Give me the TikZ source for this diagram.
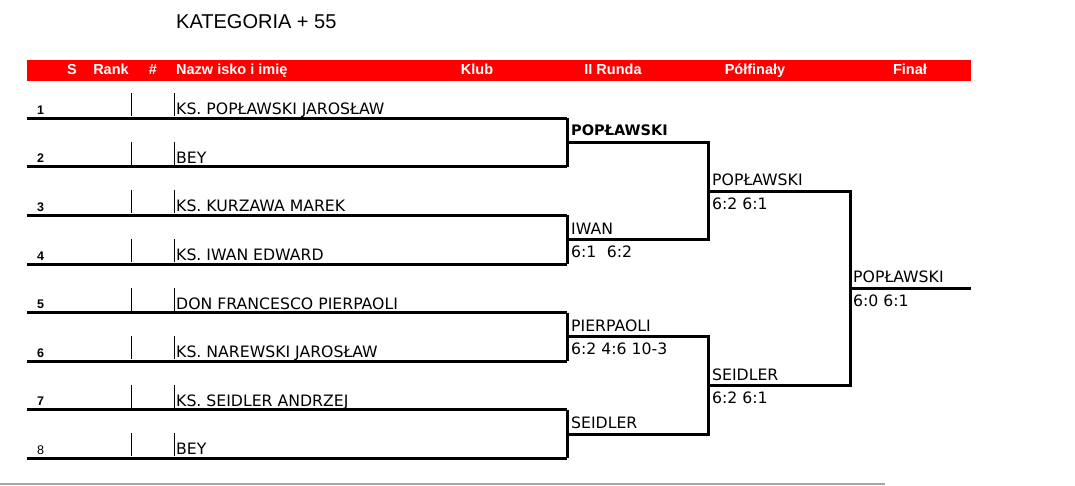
\documentclass[tikz,border=0pt]{standalone}
\usepackage{fontspec}
\setmainfont{Liberation Sans}
\newfontfamily\namefont{DejaVu Sans}
\definecolor{rulegray}{RGB}{165,165,165}
\tikzset{
  bar/.style={line width=3pt},
  tick/.style={line width=0.8pt},
  head/.style={anchor=base, inner sep=0pt, text=white, font=\bfseries\fontsize{14.5}{16}\selectfont},
  seed/.style={anchor=base west, inner sep=0pt, font=\bfseries\fontsize{12.5}{14}\selectfont},
  seedplain/.style={anchor=base west, inner sep=0pt, font=\fontsize{12.5}{14}\selectfont},
  player/.style={anchor=base west, inner sep=0pt, font=\namefont\fontsize{15.7}{18}\selectfont},
  winner/.style={anchor=base west, inner sep=0pt, font=\namefont\fontsize{15.7}{18}\selectfont},
  score/.style={anchor=base west, inner sep=0pt, font=\namefont\fontsize{15.7}{18}\selectfont},
}
\begin{document}
\begin{tikzpicture}[x=1pt,y=-1pt]
		\useasboundingbox (0,0) rectangle (1075,486);
		% title and header bar
		\node[anchor=base west, inner sep=0pt, font=\fontsize{20}{24}\selectfont] (title) at (176,29) {KATEGORIA + 55};
		\fill[red] (27,60.5) rectangle (971,81);
		\node[head] (hS) at (72,75) {S};
		\node[head] (hRank) at (111,75) {Rank};
		\node[head] (hNr) at (153,75) {\#};
		\node[head, anchor=base west] (hName) at (176,75) {Nazw isko i imię};
		\node[head] (hKlub) at (477,75) {Klub};
		\node[head] (hR2) at (613,75) {II Runda};
		\node[head] (hSemi) at (755,75) {Półfinały};
		\node[head] (hFinal) at (910,75) {Finał};
		% players
		\foreach \i/\who/\st in {1/KS. POPŁAWSKI JAROSŁAW/seed, 2/BEY/seed, 3/KS. KURZAWA MAREK/seed, 4/KS. IWAN EDWARD/seed, 5/DON FRANCESCO PIERPAOLI/seed, 6/KS. NAREWSKI JAROSŁAW/seed, 7/KS. SEIDLER ANDRZEJ/seed, 8/BEY/seedplain} {
			\pgfmathsetmacro\y{69.6+48.6*\i}
			\coordinate (l\i) at (27,\y);
			\coordinate (r\i) at (567,\y);
			\draw[bar] (l\i) -- (r\i);
			\draw[tick] (131,{\y-25}) -- (131,{\y-2});
			\draw[tick] (174,{\y-25}) -- (174,{\y-2});
			\node[\st] (n\i) at (37,{\y-4}) {\i};
			\node[player] (p\i) at (176,{\y-3.5}) {\who};
		}
		% second round
		\coordinate (w1) at (567,142.5); \coordinate (w1e) at (708,142.5);
		\coordinate (w2) at (567,239.7); \coordinate (w2e) at (708,239.7);
		\coordinate (w3) at (567,336.9); \coordinate (w3e) at (708,336.9);
		\coordinate (w4) at (567,434.1); \coordinate (w4e) at (708,434.1);
		\draw[bar] (r1) -- (r2);
		\draw[bar] (r3) -- (r4);
		\draw[bar] (r5) -- (r6);
		\draw[bar] (r7) -- (r8);
		\draw[bar] (w1) -- (w1e) -- (w2e) -- (w2);
		\draw[bar] (w3) -- (w3e) -- (w4e) -- (w4);
		\node[winner, font=\namefont\bfseries\fontsize{14.5}{17}\selectfont] (lw1) at ([shift={(4,-7)}]w1) {POPŁAWSKI};
		\node[winner] (lw2) at ([shift={(4,-5.5)}]w2) {IWAN};
		\node[score] (sw2) at ([shift={(4,18)}]w2) {6:1\hspace{0.35em} 6:2};
		\node[winner] (lw3) at ([shift={(4,-5.5)}]w3) {PIERPAOLI};
		\node[score] (sw3) at ([shift={(4,18)}]w3) {6:2 4:6 10-3};
		\node[winner] (lw4) at ([shift={(4,-5.5)}]w4) {SEIDLER};
		% semifinals
		\coordinate (s1) at (708,191.1); \coordinate (s1e) at (850,191.1);
		\coordinate (s2) at (708,385.5); \coordinate (s2e) at (850,385.5);
		\coordinate (f) at (850,288.3); \coordinate (fe) at (971,288.3);
		\draw[bar] (s1) -- (s1e) -- (s2e) -- (s2);
		\node[winner] (ls1) at ([shift={(4,-5.5)}]s1) {POPŁAWSKI};
		\node[score] (ss1) at ([shift={(4,18)}]s1) {6:2 6:1};
		\node[winner] (ls2) at ([shift={(4,-5.5)}]s2) {SEIDLER};
		\node[score] (ss2) at ([shift={(4,18)}]s2) {6:2 6:1};
		% final
		\draw[bar] (f) -- (fe);
		\node[winner] (lf) at ([shift={(3,-5.5)}]f) {POPŁAWSKI};
		\node[score] (sf) at ([shift={(3,18)}]f) {6:0 6:1};
		% page edge
		\draw[rulegray, line width=2pt] (0,484) -- (885,484);
\end{tikzpicture}
\end{document}
